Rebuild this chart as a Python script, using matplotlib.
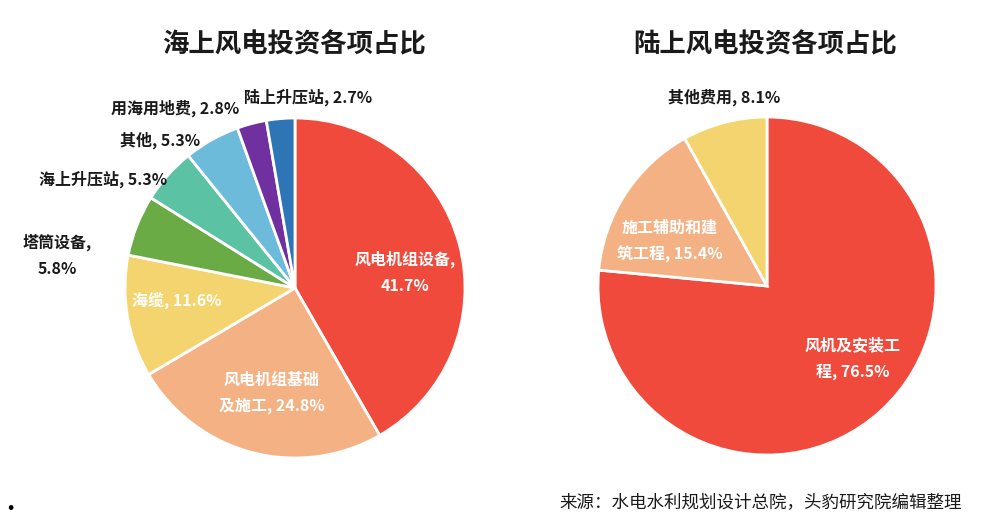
import matplotlib
matplotlib.use("Agg")
import matplotlib.pyplot as plt

plt.rcParams['font.family'] = ['Noto Sans CJK SC', 'DejaVu Sans']

# offshore wind investment shares
sea_names = ['风电机组设备', '风电机组基础及施工', '海缆', '塔筒设备',
             '海上升压站', '其他', '用海用地费', '陆上升压站']
sea_values = [41.7, 24.8, 11.6, 5.8, 5.3, 5.3, 2.8, 2.7]
sea_colors = ['#EF4A3B', '#F4B183', '#F3D46E', '#6BAB46',
              '#5CC2A4', '#6DBBDA', '#7030A0', '#2E75B6']

# onshore wind investment shares
land_names = ['风机及安装工程', '施工辅助和建筑工程', '其他费用']
land_values = [76.5, 15.4, 8.1]
land_colors = ['#EF4A3B', '#F4B183', '#F3D46E']

W, H = 988, 522


def px(x, y):
    return x / W, 1 - y / H


def make_label(name, value, brk=None):
    s = f"{name}, {value}%"
    if brk is not None:
        s = s[:brk] + '\n' + s[brk:].lstrip()
    return s


def draw_pie(rect, values, colors, title, title_xy):
    ax = fig.add_axes(rect)
    ax.pie(values, colors=colors, startangle=90, counterclock=False,
           wedgeprops=dict(edgecolor='white', linewidth=2))
    ax.set_xlim(-1, 1)
    ax.set_ylim(-1, 1)
    ax.set_aspect('equal')
    fig.text(*px(*title_xy), title, ha='center', va='center',
             fontsize=19, fontweight='bold', color='#1a1a1a')
    return ax


fig = plt.figure(figsize=(W / 100, H / 100), dpi=100)

# left pie: center (295, 288), r 170
draw_pie([125 / W, (H - 458) / H, 340 / W, 340 / H], sea_values, sea_colors,
         '海上风电投资各项占比', (294, 45))
# right pie: center (767, 286), r 169
draw_pie([598 / W, (H - 455) / H, 338 / W, 338 / H], land_values, land_colors,
         '陆上风电投资各项占比', (765, 45))

# label layout: (pixel x, pixel y, line break index, colour)
sea_layout = [
    (405, 272, 7, 'white'),
    (272, 393, 6, 'white'),
    (177, 300, None, 'white'),
    (57, 255, 5, '#1a1a1a'),
    (103, 179, None, '#1a1a1a'),
    (160, 140, None, '#1a1a1a'),
    (175, 108, None, '#1a1a1a'),
    (308, 97, None, '#1a1a1a'),
]
land_layout = [
    (853, 359, 6, 'white'),
    (670, 241, 6, 'white'),
    (724, 97, None, '#1a1a1a'),
]

for names, values, layout in [(sea_names, sea_values, sea_layout),
                              (land_names, land_values, land_layout)]:
    for name, value, (x, y, brk, c) in zip(names, values, layout):
        fig.text(*px(x, y), make_label(name, value, brk), ha='center',
                 va='center', fontsize=11.5, fontweight='bold', color=c,
                 linespacing=1.75)

fig.text(*px(962, 503), '来源：水电水利规划设计总院，头豹研究院编辑整理',
         ha='right', va='center', fontsize=12.6, style='italic', color='#1a1a1a')
fig.text(*px(10, 510), '•', ha='center', va='center', fontsize=16,
         color='black')

fig.savefig('out.png', dpi=100, facecolor='white')
